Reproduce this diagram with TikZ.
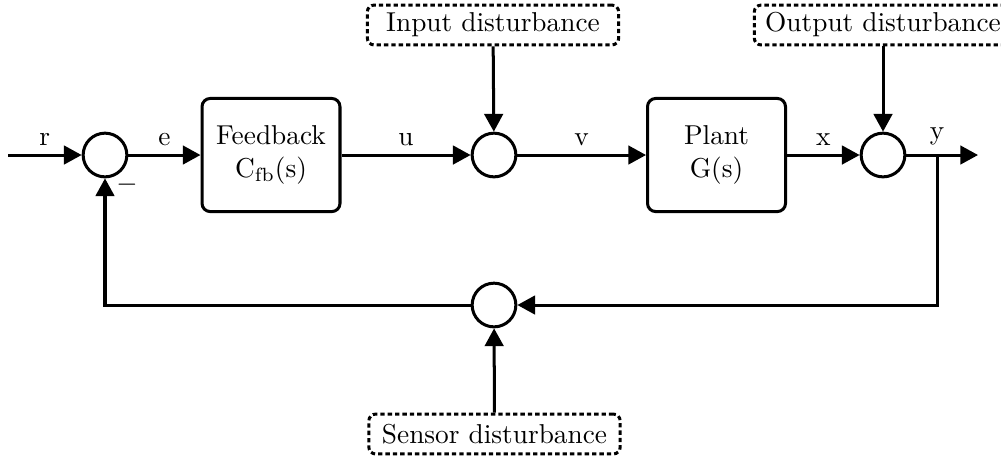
\documentclass[tikz,border=0pt]{standalone}
\usetikzlibrary{arrows.meta}
\begin{document}
\begin{tikzpicture}[x=0.366pt, y=-0.366pt, line width=1.1pt,
  every node/.append style={font=\normalsize},
  sumnode/.style={circle, draw, line width=1.1pt, minimum size=16pt, inner sep=0pt},
  blockbox/.style={rectangle, draw, line width=1.1pt, rounded corners=3pt,
    minimum width=50.5pt, minimum height=41.4pt, align=center},
  distbox/.style={rectangle, draw, line width=1.1pt, rounded corners=2.5pt,
    dash pattern=on 1.6pt off 1.1pt, minimum width=92pt, minimum height=14.6pt,
    inner xsep=4pt, inner ysep=1pt},
  sig/.style={-{Triangle[length=6.5pt,width=6.8pt]}},
  lab/.style={above, inner sep=3pt}]
\useasboundingbox (0,0) rectangle (1001,459);

% summing junctions
\node[sumnode] (s1) at (105,155) {};
\node[sumnode] (s2) at (494,155) {};
\node[sumnode] (s3) at (883,155) {};
\node[sumnode] (s4) at (494,305) {};

% blocks
\node[blockbox] (fb) at (271,155) {Feedback\\$\mathrm{C_{fb}(s)}$};
\node[blockbox] (pl) at (716.5,155) {Plant\\G(s)};

% disturbance sources
\node[distbox] (din) at (493,25) {Input disturbance};
\node[distbox] (dout) at (883,25) {Output disturbance};
\node[distbox] (dsen) at (494.5,434) {Sensor disturbance};

% free ends
\coordinate (rin) at (8,155);
\coordinate (yout) at (978,155);
\coordinate (tap) at (937,155);
\coordinate (tapd) at (937,305);
\coordinate (retl) at (105,305);

% forward path
\draw[sig] (rin) -- node[lab] {r} (s1);
\draw[sig] (s1) -- node[lab] {e} (fb);
\draw[sig] (fb) -- node[lab] {u} (s2);
\draw[sig] (s2) -- node[lab] {v} (pl);
\draw[sig] (pl) -- node[lab] {x} (s3);
\draw[sig] (s3) -- (yout);
\node[lab] (ylab) at (tap) {y};

% disturbance inputs
\draw[sig] (din) -- (s2);
\draw[sig] (dout) -- (s3);
\draw[sig] (dsen) -- (s4);

% feedback path
\draw[sig] (tap) -- (tapd) -- (s4);
\draw[sig] (s4) -- (retl) -- (s1);
\node (minus) at (127,185) {$-$};
\end{tikzpicture}
\end{document}
